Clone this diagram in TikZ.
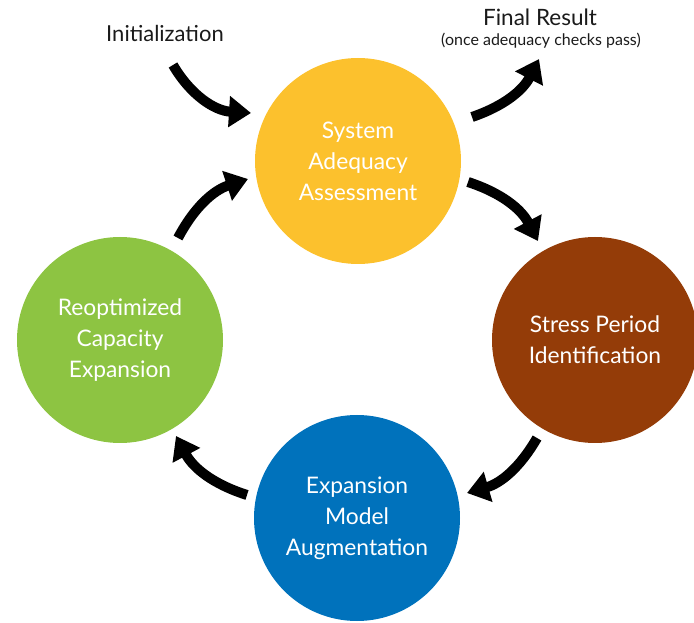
\documentclass[tikz,border=0pt]{standalone}
\usepackage{fontspec}
\setmainfont{Lato}
\usetikzlibrary{arrows.meta}
\definecolor{cyellow}{RGB}{252,193,45}
\definecolor{cbrown}{RGB}{148,60,8}
\definecolor{cgreen}{RGB}{141,196,66}
\definecolor{cblue}{RGB}{0,114,188}
\definecolor{ctext}{RGB}{26,26,26}
\tikzset{
  stage/.style={circle, minimum size=206pt, inner sep=0pt, text=white, align=center,
    font=\fontsize{22.8}{31}\selectfont},
  cyc/.style={line width=10pt, -{Triangle[width=30pt,length=22pt]}},
  lbl/.style={text=ctext, align=center}
}
\begin{document}
\begin{tikzpicture}[x=1pt,y=1pt]
\useasboundingbox (0,0) rectangle (694,622);
\node[stage, fill=cyellow] (sys) at (358,461) {System\\Adequacy\\Assessment};
\node[stage, fill=cbrown] (stress) at (595,282) {Stress Period\\Identification};
\node[stage, fill=cblue] (aug) at (357,104) {Expansion\\Model\\Augmentation};
\node[stage, fill=cgreen] (reopt) at (120,282) {Reoptimized\\Capacity\\Expansion};
\node[lbl, font=\fontsize{22}{26}\selectfont] (init) at (165,589) {Initialization};
\node[lbl, font=\fontsize{22.5}{26}\selectfont] (final) at (540,605) {Final Result};
\node[lbl, font=\fontsize{16}{19}\selectfont] (finalsub) at (541,581) {(once adequacy checks pass)};
\coordinate (a1s) at (173,557); \coordinate (a1e) at (251,509);
\coordinate (a2s) at (472,505); \coordinate (a2e) at (539,563);
\coordinate (a3s) at (468,440); \coordinate (a3e) at (538,381);
\coordinate (a4s) at (537,184); \coordinate (a4e) at (467,129);
\coordinate (a5s) at (247,127); \coordinate (a5e) at (176,186);
\coordinate (a6s) at (178,384); \coordinate (a6e) at (248,443);
\draw[cyc] (a1s) to[bend right=28] (a1e);
\draw[cyc] (a2s) to[bend right=22] (a2e);
\draw[cyc] (a3s) to[bend left=22] (a3e);
\draw[cyc] (a4s) to[bend left=22] (a4e);
\draw[cyc] (a5s) to[bend left=22] (a5e);
\draw[cyc] (a6s) to[bend left=22] (a6e);
\end{tikzpicture}
\end{document}
